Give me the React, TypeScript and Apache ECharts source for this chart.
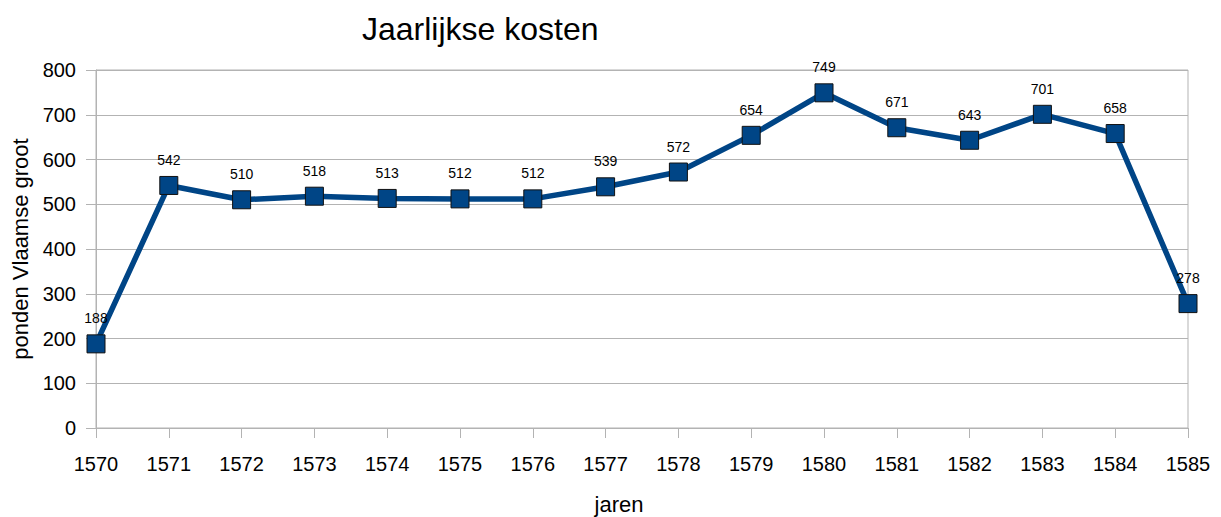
import React, { useEffect, useRef } from "react";
import * as echarts from "echarts";

const years = ["1570","1571","1572","1573","1574","1575","1576","1577","1578","1579","1580","1581","1582","1583","1584","1585"];
const costs = [188, 542, 510, 518, 513, 512, 512, 539, 572, 654, 749, 671, 643, 701, 658, 278];

const FONT = "'Liberation Sans', Arial, sans-serif";

export default function App() {
  const ref = useRef<HTMLDivElement>(null);
  useEffect(() => {
    if (!ref.current) return;
    const chart = echarts.init(ref.current, undefined, { renderer: "svg" });
    chart.setOption({
      animation: false,
      backgroundColor: "#ffffff",
      textStyle: { fontFamily: FONT },
      title: {
        text: "Jaarlijkse kosten",
        left: 357,
        top: 8,
        textStyle: { fontSize: 32, fontWeight: "normal", color: "#000", fontFamily: FONT },
      },
      graphic: [{
        type: "text",
        x: 619,
        y: 504,
        style: {
          text: "jaren", fontSize: 22, fill: "#000", fontFamily: FONT,
          textAlign: "center", textVerticalAlign: "middle",
        },
      }],
      grid: {
        left: 96, right: 33, top: 70, bottom: 89,
        show: true, borderColor: "#b3b3b3", borderWidth: 1,
      },
      xAxis: {
        type: "category",
        data: years,
        boundaryGap: false,
        axisLine: { lineStyle: { color: "#b3b3b3", width: 1 } },
        axisTick: { show: true, length: 10, lineStyle: { color: "#b3b3b3" } },
        axisLabel: { fontSize: 20, color: "#000", margin: 26, fontFamily: FONT },
        splitLine: { show: false },
      },
      yAxis: {
        type: "value",
        min: 0, max: 800, interval: 100,
        name: "ponden Vlaamse groot",
        nameLocation: "middle",
        nameGap: 57,
        nameTextStyle: { fontSize: 22, color: "#000", fontFamily: FONT },
        axisLine: { show: true, lineStyle: { color: "#b3b3b3", width: 1 } },
        axisTick: { show: true, length: 10, lineStyle: { color: "#b3b3b3" } },
        axisLabel: { fontSize: 20, color: "#000", margin: 20, fontFamily: FONT },
        splitLine: { show: true, lineStyle: { color: "#b3b3b3", width: 1 } },
      },
      series: [{
        type: "line",
        data: costs,
        symbol: "rect",
        symbolSize: 18,
        lineStyle: { color: "#004586", width: 5.5 },
        itemStyle: { color: "#004586", borderColor: "#111", borderWidth: 1 },
        label: {
          show: true, position: "top", distance: 9,
          fontSize: 14, color: "#000", fontFamily: FONT,
        },
      }],
    });
    return () => chart.dispose();
  }, []);
  return <div ref={ref} style={{ position: "fixed", left: 0, top: 0, width: 1221, height: 517 }} />;
}
